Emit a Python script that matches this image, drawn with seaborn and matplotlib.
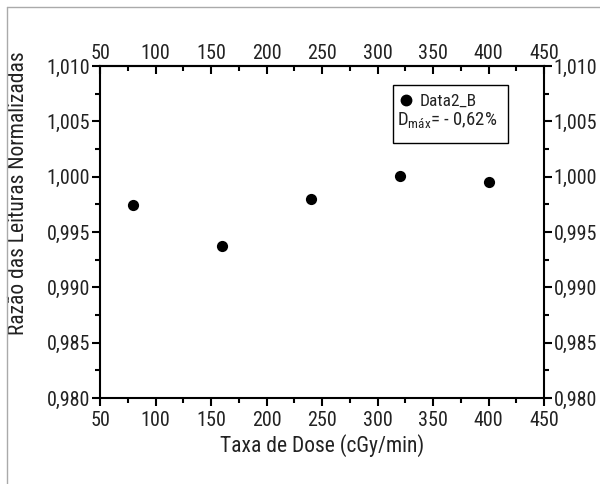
import matplotlib
matplotlib.use("Agg")
import matplotlib.pyplot as plt
import matplotlib.font_manager as fm
from matplotlib.ticker import MultipleLocator, FuncFormatter
from matplotlib.patches import Rectangle
from matplotlib.lines import Line2D
import seaborn as sns
import pandas as pd

# data
dose_rate = [80, 160, 240, 320, 400]
ratio = [0.99744, 0.99374, 0.99798, 1.00003, 0.99948]
series_label = "Data2_B"
dmax_text = "= - 0,62%"
x_ticks = [50, 100, 150, 200, 250, 300, 350, 400, 450]
y_ticks = [0.980, 0.985, 0.990, 0.995, 1.000, 1.005, 1.010]

sns.set_theme(style="white")
family = "DejaVu Sans"
for cand in ["Liberation Sans Narrow", "Roboto Condensed", "Liberation Sans"]:
    try:
        fm.findfont(cand, fallback_to_default=False)
        family = cand
        break
    except Exception:
        pass
plt.rcParams["font.family"] = [family, "DejaVu Sans"]
plt.rcParams["axes.unicode_minus"] = False

fig = plt.figure(figsize=(6.0, 4.84), dpi=100)
ax = fig.add_axes([100/600, 1-398/484, 444/600, 332/484])

df = pd.DataFrame({"x": dose_rate, "y": ratio})
sns.scatterplot(data=df, x="x", y="y", ax=ax, color="black", s=65,
                edgecolor="black", linewidth=0, legend=False, zorder=3)

ax.set_xlim(50, 450)
ax.set_ylim(0.980, 1.010)
ax.set_xticks(x_ticks)
ax.set_yticks(y_ticks)
ax.xaxis.set_minor_locator(MultipleLocator(25))
ax.yaxis.set_minor_locator(MultipleLocator(0.0025))
fmt_y = FuncFormatter(lambda v, p: f"{v:.3f}".replace(".", ","))
ax.yaxis.set_major_formatter(fmt_y)

for sp in ax.spines.values():
    sp.set_color("black")
    sp.set_linewidth(1.5)

fs = 14.5
lfs = 15.5
tc = "#222222"
ax.tick_params(axis="x", which="major", direction="out", length=6, width=1.5,
               labelsize=fs, color="black", labelcolor=tc, pad=3, bottom=True)
ax.tick_params(axis="x", which="minor", direction="out", length=3.5, width=1.5,
               color="black", bottom=True)
ax.tick_params(axis="y", which="major", direction="out", length=6, width=1.5,
               labelsize=fs, color="black", labelcolor=tc, left=True,
               right=True, labelright=True, pad=1)
ax.tick_params(axis="y", which="minor", direction="out", length=3.5, width=1.5,
               color="black", left=True, right=True)

sec = ax.secondary_xaxis("top")
sec.set_xticks(x_ticks)
sec.xaxis.set_minor_locator(MultipleLocator(25))
sec.tick_params(axis="x", which="major", direction="in", length=6, width=1.5,
                labelsize=fs, color="black", labelcolor=tc, pad=2)
sec.tick_params(axis="x", which="minor", direction="in", length=3.5, width=1.5,
                color="black")
sec.spines["top"].set_linewidth(1.5)

ax.set_xlabel("Taxa de Dose (cGy/min)", fontsize=lfs, color=tc, labelpad=3)
ax.set_ylabel("Razão das Leituras Normalizadas", fontsize=lfs, color=tc)
ax.yaxis.set_label_coords((29-100)/444, (398-193)/332)

# legend box
x0 = (393-100)/444
x1 = (508-100)/444
y0 = (398-143)/332
y1 = (398-85)/332
ax.add_patch(Rectangle((x0, y0), x1-x0, y1-y0, transform=ax.transAxes,
                       facecolor="white", edgecolor="black", linewidth=1.0, zorder=4))
h = Line2D([], [], marker="o", color="black", linestyle="none", markersize=7.5)
leg = ax.legend(handles=[h], labels=[series_label], loc="center left",
                bbox_to_anchor=((398-100)/444, (398-101)/332), frameon=False,
                fontsize=12.5, handlelength=0.9, handletextpad=0.35, borderpad=0,
                borderaxespad=0)
leg.set_zorder(5)
for t in leg.get_texts():
    t.set_color(tc)
ax.text((397-100)/444, (398-121)/332, "D$_{\\mathregular{máx}}$" + dmax_text,
        transform=ax.transAxes, fontsize=13.5, color=tc, va="center",
        ha="left", zorder=6)

# partial figure frame (left and top)
fig.add_artist(Line2D([7/600, 7/600], [0, 1-7/484], color="#aaaaaa", linewidth=1,
                      transform=fig.transFigure))
fig.add_artist(Line2D([7/600, 1], [1-7/484, 1-7/484], color="#aaaaaa", linewidth=1,
                      transform=fig.transFigure))

fig.savefig("out.png", dpi=100)
